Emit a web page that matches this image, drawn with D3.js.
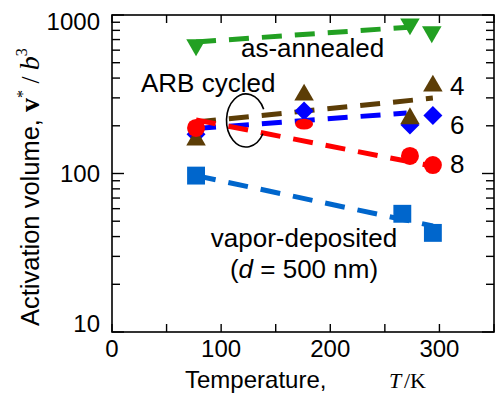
<!DOCTYPE html>
<html>
<head>
<meta charset="utf-8">
<script src="https://cdn.jsdelivr.net/npm/d3@7"></script>
<style>
  html, body { margin: 0; padding: 0; background: #fff; }
  svg { display: block; }
  text { font-family: "Liberation Sans", Arial, sans-serif; fill: #000; }
  .serif { font-family: "Liberation Serif", "Times New Roman", serif; }
</style>
</head>
<body>
<svg id="chart" width="495" height="396"></svg>
<script>
// ---- data ----
const xTicks = [0, 50, 100, 150, 200, 250, 300, 350];
const xTickLabels = [0, 100, 200, 300];
const yTickLabels = [10, 100, 1000];

// as-annealed (green, down triangles)
const annealedT = [77, 273, 293];
const annealedV = [647, 877, 782];
const annealedLineT = [77, 272];
const annealedLineV = [676, 838];

// ARB 4 cycles (brown, up triangles)
const arb4T = [77, 176, 273, 294];
const arb4V = [163, 313, 222, 357];
const arb4LineT = [77, 294];
const arb4LineV = [211, 299];

// ARB 6 cycles (blue, diamonds)
const arb6T = [77, 176, 273, 294];
const arb6V = [177, 248, 202, 232];
const arb6LineT = [77, 270];
const arb6LineV = [192, 241];

// ARB 8 cycles (red, circles)
const arb8T = [77, 176, 273, 294];
const arb8V = [194, 205, 129, 113];
const arb8LineT = [77, 294];
const arb8LineV = [218, 111];

// vapor-deposited (blue squares)
const vaporT = [77, 266, 294];
const vaporV = [97, 55.7, 42.2];
const vaporLineT = [77, 294];
const vaporLineV = [97, 46.7];

// ---- layout ----
const svg = d3.select("#chart");
const mLeft = 112, mRight = 494, mTop = 15, mBottom = 332;

const x = d3.scaleLinear().domain([0, 350]).range([mLeft, mRight]);
const y = d3.scaleLog().domain([10, 1000]).range([mBottom, mTop]);

// frame
svg.append("rect")
  .attr("x", mLeft).attr("y", mTop)
  .attr("width", mRight - mLeft).attr("height", mBottom - mTop)
  .attr("fill", "none").attr("stroke", "#000").attr("stroke-width", 1.6);

// x ticks (inside, bottom and top)
const gx = svg.append("g").attr("stroke", "#000").attr("stroke-width", 1.4);
xTicks.forEach(t => {
  gx.append("line").attr("x1", x(t)).attr("x2", x(t)).attr("y1", mBottom).attr("y2", mBottom - 8);
  gx.append("line").attr("x1", x(t)).attr("x2", x(t)).attr("y1", mTop).attr("y2", mTop + 8);
});
svg.append("g").selectAll("text").data(xTickLabels).join("text")
  .attr("x", d => x(d)).attr("y", mBottom + 25)
  .attr("text-anchor", "middle").attr("font-size", 24)
  .text(d => d);

// y ticks: log minor/major, inside, left and right
const yTicksAll = y.ticks();
const gy = svg.append("g").attr("stroke", "#000").attr("stroke-width", 1.4);
yTicksAll.forEach(v => {
  const major = Math.abs(Math.log10(v) - Math.round(Math.log10(v))) < 1e-9;
  const len = major ? 12 : 8;
  gy.append("line").attr("x1", mLeft).attr("x2", mLeft + len).attr("y1", y(v)).attr("y2", y(v));
  gy.append("line").attr("x1", mRight).attr("x2", mRight - len).attr("y1", y(v)).attr("y2", y(v));
});
const yLabelShift = v => (v === 1000 ? 6 : v === 10 ? -9 : 0);
svg.append("g").selectAll("text").data(yTickLabels).join("text")
  .attr("x", mLeft - 12).attr("y", d => y(d) + yLabelShift(d))
  .attr("dy", "0.36em")
  .attr("text-anchor", "end").attr("font-size", 24)
  .text(d => d);

// axis titles
const xt = svg.append("text").attr("x", 185).attr("y", 388).attr("font-size", 24);
xt.append("tspan").text("Temperature,");
xt.append("tspan").attr("class", "serif").attr("x", 389).attr("font-size", 22).attr("font-style", "italic").text("T");
xt.append("tspan").attr("class", "serif").attr("x", 404).attr("font-size", 22).text("/");
xt.append("tspan").attr("class", "serif").attr("x", 410).attr("font-size", 22).text("K");

const yt = svg.append("text").attr("transform", "translate(39,326) rotate(-90)").attr("font-size", 25.5);
yt.append("tspan").text("Activation volume, ");
yt.append("tspan").attr("class", "serif").attr("font-weight", "bold").attr("font-size", 28).text("v");
yt.append("tspan").attr("class", "serif").attr("font-size", 16).attr("dy", -11).text("*");
yt.append("tspan").attr("class", "serif").attr("dy", 11).text(" / ");
yt.append("tspan").attr("class", "serif").attr("font-style", "italic").attr("font-size", 28).text("b");
yt.append("tspan").attr("class", "serif").attr("font-size", 16).attr("dy", -12).text("3");

// ---- lines ----
const line = d3.line().x(d => x(d[0])).y(d => y(d[1]));
const lines = [
  { T: annealedLineT, V: annealedLineV, color: "#22a022" },
  { T: vaporLineT, V: vaporLineV, color: "#0066cc" },
  { T: arb6LineT, V: arb6LineV, color: "#0000ff" },
  { T: arb4LineT, V: arb4LineV, color: "#5c3d06" },
  { T: arb8LineT, V: arb8LineV, color: "#ff0000" }
];
lines.forEach(s => {
  svg.append("path")
    .attr("d", line(d3.zip(s.T, s.V)))
    .attr("fill", "none").attr("stroke", s.color)
    .attr("stroke-width", 5).attr("stroke-dasharray", "20,13");
});

// ---- markers ----
function markers(T, V, symType, size, color, rot, squashIdx) {
  const sym = d3.symbol().type(symType).size(size);
  svg.append("g").selectAll("path").data(d3.zip(T, V)).join("path")
    .attr("d", sym)
    .attr("transform", (d, i) => {
      let tr = `translate(${x(d[0])},${y(d[1])}) rotate(${rot})`;
      if (squashIdx === i) tr += " scale(1,0.6)";
      return tr;
    })
    .attr("fill", color);
}
markers(annealedT, annealedV, d3.symbolTriangle, 165, "#22a022", 180);
markers(vaporT, vaporV, d3.symbolSquare, 320, "#0066cc", 0);
markers(arb6T, arb6V, d3.symbolSquare, 180, "#0000ff", 45);
markers(arb4T, arb4V, d3.symbolTriangle, 165, "#5c3d06", 0);
markers(arb8T, arb8V, d3.symbolCircle, 254, "#ff0000", 0, 1);

// ---- annotations ----
const ann = [
  { t: "as-annealed", x: 241, y: 57 },
  { t: "ARB cycled", x: 141, y: 92 },
  { t: "4", x: 450, y: 95 },
  { t: "6", x: 450, y: 134 },
  { t: "8", x: 450, y: 173 }
];
ann.forEach(a => svg.append("text").attr("x", a.x).attr("y", a.y).attr("font-size", 26).text(a.t));
svg.append("text").attr("x", 304).attr("y", 247).attr("font-size", 26)
  .attr("text-anchor", "middle").text("vapor-deposited");
const dn = svg.append("text").attr("x", 304).attr("y", 278).attr("font-size", 26).attr("text-anchor", "middle");
dn.append("tspan").text("(");
dn.append("tspan").attr("font-style", "italic").text("d");
dn.append("tspan").text(" = 500 nm)");

// open ellipse (bracket for ARB cycled)
const ecx = 246, ecy = 120.5, erx = 19.5, ery = 26.5;
const a0 = -25 * Math.PI / 180, a1 = 30 * Math.PI / 180;
const p0 = [ecx + erx * Math.cos(a0), ecy + ery * Math.sin(a0)];
const p1 = [ecx + erx * Math.cos(a1), ecy + ery * Math.sin(a1)];
svg.append("path")
  .attr("d", `M${p0[0]},${p0[1]} A${erx},${ery} 0 1 0 ${p1[0]},${p1[1]}`)
  .attr("fill", "none").attr("stroke", "#000").attr("stroke-width", 1.6);
</script>
</body>
</html>
